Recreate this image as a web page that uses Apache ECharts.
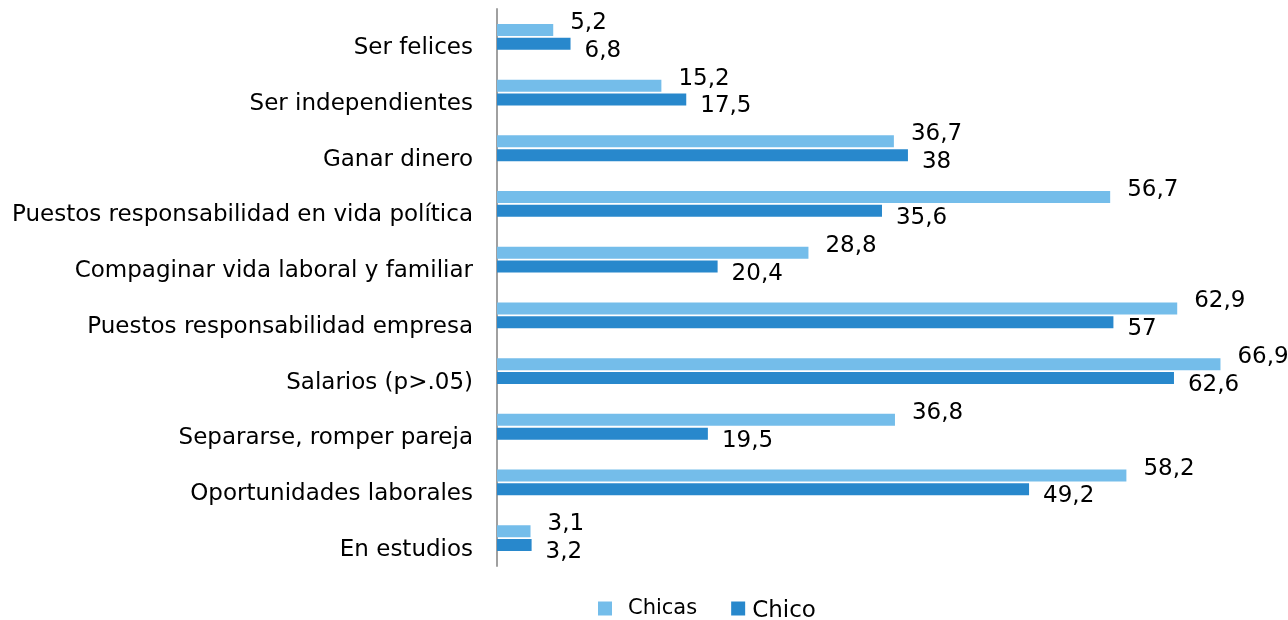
<!DOCTYPE html>
<html>
<head>
<meta charset="utf-8">
<script src="https://cdn.jsdelivr.net/npm/echarts@6/dist/echarts.min.js"></script>
<style>
  html, body { margin: 0; padding: 0; background: #fff; }
  #chart { width: 1288px; height: 620px; }
</style>
</head>
<body>
<div id="chart"></div>
<script>
// datos
const categorias = [
  "Ser felices",
  "Ser independientes",
  "Ganar dinero",
  "Puestos responsabilidad en vida política",
  "Compaginar vida laboral y familiar",
  "Puestos responsabilidad empresa",
  "Salarios (p>.05)",
  "Separarse, romper pareja",
  "Oportunidades laborales",
  "En estudios"
];
const chicas = [5.2, 15.2, 36.7, 56.7, 28.8, 62.9, 66.9, 36.8, 58.2, 3.1];
const chico = [6.8, 17.5, 38, 35.6, 20.4, 57, 62.6, 19.5, 49.2, 3.2];

const fuente = "DejaVu Sans";
const coma = (p) => String(p.value).replace(".", ",");

const option = {
  animation: false,
  textStyle: { fontFamily: fuente },
  grid: { left: 497, right: 34, top: 9, height: 557 },
  legend: {
    bottom: -8,
    left: 593,
    itemWidth: 14,
    itemHeight: 14,
    itemGap: 34,
    icon: "rect",
    data: ["Chicas", "Chico"],
    formatter: (name) => (name === "Chico" ? "{b|" + name + "}" : "{a|" + name + "}"),
    textStyle: {
      rich: {
        a: { fontSize: 21, color: "#000", fontFamily: fuente, padding: [0, 0, 0, 11] },
        b: { fontSize: 23, color: "#000", fontFamily: fuente, padding: [6, 0, 0, 2] }
      }
    }
  },
  xAxis: { type: "value", min: 0, max: 70, show: false },
  yAxis: {
    type: "category",
    inverse: true,
    data: categorias,
    axisLine: { show: true, lineStyle: { color: "#a0a0a0", width: 2 } },
    axisTick: { show: false },
    axisLabel: {
      color: "#000",
      fontSize: 23,
      fontFamily: fuente,
      margin: 24,
      verticalAlign: "top"
    }
  },
  series: [
    {
      name: "Chicas",
      type: "bar",
      data: chicas,
      barWidth: 12,
      barGap: "15%",
      itemStyle: { color: "#74bdea" },
      label: {
        show: true,
        position: "right",
        offset: [12, -7],
        formatter: coma,
        color: "#000",
        fontSize: 23,
        fontFamily: fuente
      }
    },
    {
      name: "Chico",
      type: "bar",
      data: chico,
      barWidth: 12,
      itemStyle: { color: "#2888cc" },
      label: {
        show: true,
        position: "right",
        offset: [9, 7],
        formatter: coma,
        color: "#000",
        fontSize: 23,
        fontFamily: fuente
      }
    }
  ]
};

const chartObj = echarts.init(document.getElementById("chart"));
chartObj.setOption(option);
</script>
</body>
</html>
